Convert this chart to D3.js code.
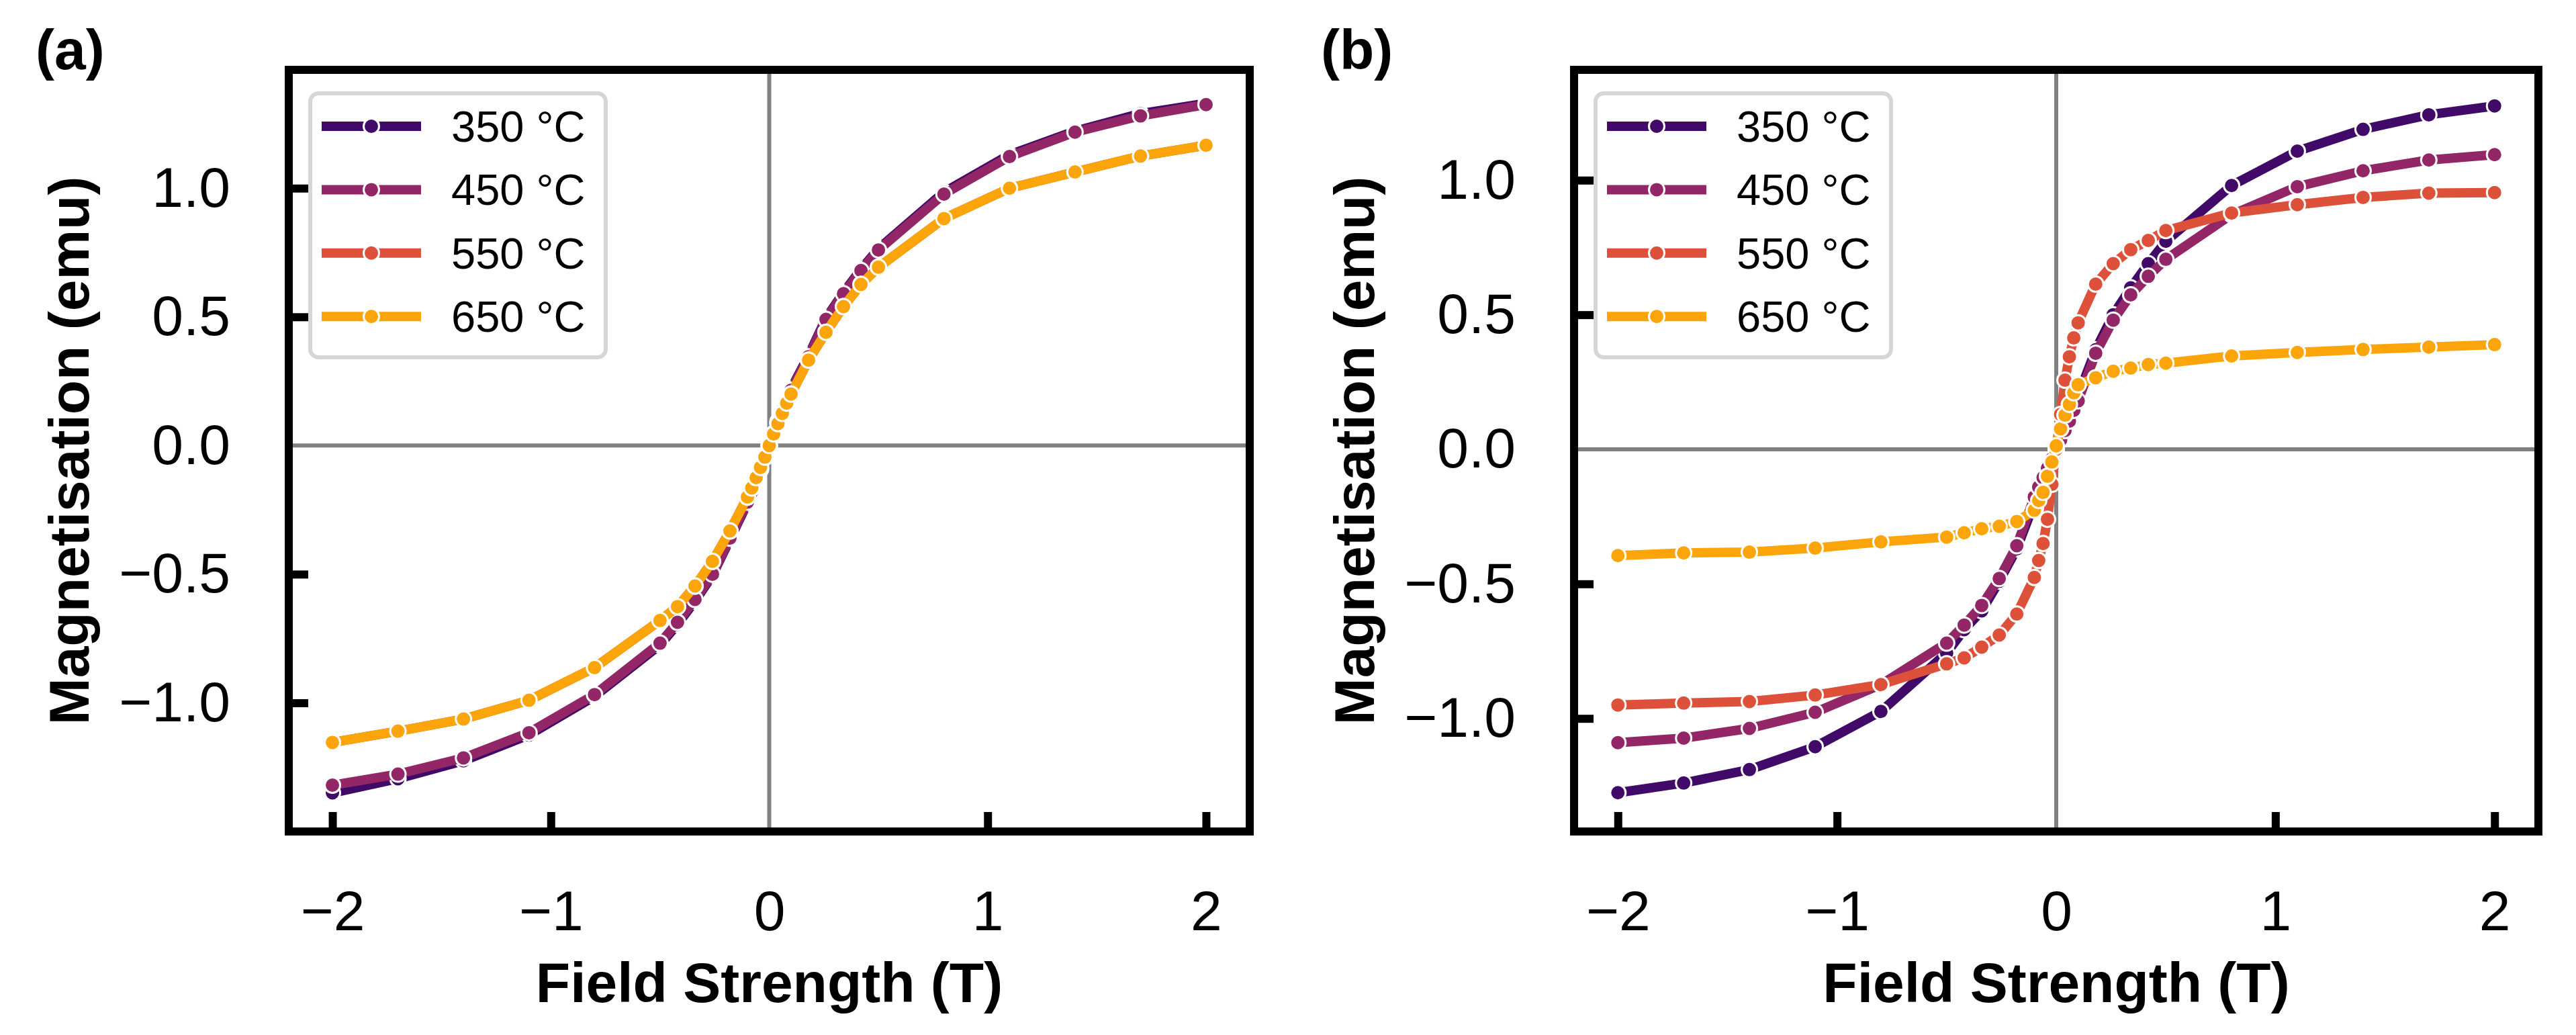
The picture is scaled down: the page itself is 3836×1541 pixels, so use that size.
<!DOCTYPE html>
<html>
  <head>
    <meta charset="utf-8" />
    <script src="https://cdn.jsdelivr.net/npm/d3@7"></script>
    <style>
      body { margin: 0; background: #ffffff; }
      text { font-family: "Liberation Sans", Arial, sans-serif; fill: #000000; }
      .tick text { font-size: 84px; }
      .label { font-size: 84px; font-weight: bold; }
      .legend text { font-size: 65px; }
    </style>
  </head>
  <body>
    <div id="chart"></div>
    <script type="text/javascript">
      var w = 3836, h = 1541;

      // field values (T), shared by every series
      var field = [-2, -1.7, -1.4, -1.1, -0.8, -0.5, -0.42, -0.34, -0.26, -0.18, -0.1, -0.08, -0.06, -0.04, -0.02, 0,
                   0.02, 0.04, 0.06, 0.08, 0.1, 0.18, 0.26, 0.34, 0.42, 0.5, 0.8, 1.1, 1.4, 1.7, 2];

      var temps = ["350 °C", "450 °C", "550 °C", "650 °C"];
      var colors = ["#420a68", "#932667", "#dd513a", "#fca50a"];

      // panel (a)
      var a350 = [-1.35, -1.295, -1.225, -1.125, -0.975, -0.775, -0.695, -0.605, -0.505, -0.365, -0.225, -0.185, -0.14, -0.093, -0.047, 0,
                  0.047, 0.093, 0.14, 0.18, 0.22, 0.35, 0.495, 0.595, 0.685, 0.765, 0.985, 1.13, 1.222, 1.29, 1.33];
      var a450 = [-1.32, -1.277, -1.214, -1.116, -0.968, -0.768, -0.687, -0.598, -0.5, -0.36, -0.22, -0.18, -0.135, -0.09, -0.045, 0,
                  0.045, 0.09, 0.135, 0.175, 0.215, 0.345, 0.49, 0.59, 0.68, 0.76, 0.977, 1.123, 1.218, 1.281, 1.325];
      var a550 = [-1.154, -1.11, -1.063, -0.99, -0.863, -0.68, -0.626, -0.546, -0.45, -0.332, -0.2, -0.165, -0.125, -0.085, -0.045, 0,
                  0.045, 0.085, 0.125, 0.165, 0.2, 0.332, 0.44, 0.54, 0.626, 0.693, 0.882, 1.0, 1.063, 1.125, 1.167];
      var a650 = [-1.154, -1.11, -1.063, -0.99, -0.863, -0.68, -0.626, -0.546, -0.45, -0.332, -0.2, -0.165, -0.125, -0.085, -0.045, 0,
                  0.045, 0.085, 0.125, 0.165, 0.2, 0.332, 0.44, 0.54, 0.626, 0.693, 0.882, 1.0, 1.063, 1.125, 1.167];

      // panel (b)
      var b350 = [-1.276, -1.24, -1.19, -1.105, -0.974, -0.757, -0.67, -0.6, -0.49, -0.37, -0.2, -0.165, -0.125, -0.085, -0.045, -0.005,
                  0.04, 0.08, 0.12, 0.16, 0.2, 0.37, 0.5, 0.6, 0.69, 0.773, 0.98, 1.108, 1.189, 1.243, 1.276];
      var b450 = [-1.09, -1.073, -1.037, -0.977, -0.874, -0.72, -0.653, -0.58, -0.48, -0.358, -0.177, -0.14, -0.105, -0.07, -0.035, 0,
                  0.035, 0.07, 0.105, 0.145, 0.18, 0.357, 0.48, 0.574, 0.643, 0.706, 0.872, 0.976, 1.035, 1.075, 1.095];
      var b550 = [-0.95, -0.943, -0.937, -0.913, -0.874, -0.797, -0.775, -0.735, -0.69, -0.612, -0.476, -0.413, -0.35, -0.26, -0.13, 0,
                  0.13, 0.257, 0.344, 0.414, 0.47, 0.614, 0.69, 0.742, 0.776, 0.813, 0.878, 0.909, 0.936, 0.952, 0.954];
      var b650 = [-0.395, -0.385, -0.382, -0.367, -0.344, -0.326, -0.31, -0.295, -0.286, -0.268, -0.226, -0.19, -0.16, -0.1, -0.047, 0.013,
                  0.076, 0.127, 0.167, 0.21, 0.24, 0.266, 0.29, 0.302, 0.315, 0.32, 0.347, 0.36, 0.371, 0.38, 0.389];

      var xTicks = [-2, -1, 1, 2];
      var yTicks = [-1, -0.5, 0.5, 1];

      var panels = [
        { tag: "(a)", left: 430, right: 1861, ydom: [-1.50, 1.46], series: [a350, a450, a550, a650] },
        { tag: "(b)", left: 2344, right: 3780, ydom: [-1.42, 1.41], series: [b350, b450, b550, b650] }
      ];
      var plotTop = 104, plotBottom = 1238;

      var svg = d3.select("#chart")
        .append("svg")
        .attr("width", w)
        .attr("height", h);

      svg.append("rect").attr("width", w).attr("height", h).attr("fill", "#ffffff");

      panels.forEach(function(p) {
        var x = d3.scaleLinear().domain([-2.2, 2.2]).range([p.left, p.right]);
        var y = d3.scaleLinear().domain(p.ydom).range([plotBottom, plotTop]);
        var g = svg.append("g");

        // zero lines
        g.append("line")
          .attr("x1", p.left).attr("x2", p.right)
          .attr("y1", y(0)).attr("y2", y(0))
          .attr("stroke", "#808080").attr("stroke-width", 6);
        g.append("line")
          .attr("x1", x(0)).attr("x2", x(0))
          .attr("y1", plotTop).attr("y2", plotBottom)
          .attr("stroke", "#808080").attr("stroke-width", 6);

        var line = d3.line()
          .x(function(d, i) { return x(field[i]); })
          .y(function(d) { return y(d); });

        p.series.forEach(function(vals, k) {
          var s = g.append("g");
          s.append("path")
            .datum(vals)
            .attr("d", line)
            .attr("fill", "none")
            .attr("stroke", colors[k])
            .attr("stroke-width", 14)
            .attr("stroke-linejoin", "round");
          s.selectAll("circle").data(vals)
            .enter()
            .append("circle")
            .attr("cx", function(d, i) { return x(field[i]); })
            .attr("cy", function(d) { return y(d); })
            .attr("r", 11.5)
            .attr("fill", colors[k])
            .attr("stroke", "#ffffff")
            .attr("stroke-width", 3);
        });

        // axes, ticks pointing inwards
        var xa = g.append("g")
          .attr("transform", "translate(0," + plotBottom + ")")
          .call(d3.axisBottom(x).tickValues(xTicks.concat([0])).tickFormat(d3.format("d"))
            .tickSizeInner(-29).tickSizeOuter(0).tickPadding(87));
        var ya = g.append("g")
          .attr("transform", "translate(" + p.left + ",0)")
          .call(d3.axisLeft(y).tickValues(yTicks.concat([0])).tickFormat(d3.format(".1f"))
            .tickSizeInner(-29).tickSizeOuter(0).tickPadding(87));
        [xa, ya].forEach(function(a) {
          a.select(".domain").remove();
          a.selectAll(".tick line")
            .attr("stroke", function(d) { return d === 0 ? "none" : "#000000"; })
            .attr("stroke-width", 12);
          a.selectAll(".tick text").attr("fill", "#000000");
        });

        // frame
        g.append("rect")
          .attr("x", p.left).attr("y", plotTop)
          .attr("width", p.right - p.left).attr("height", plotBottom - plotTop)
          .attr("fill", "none").attr("stroke", "#000000").attr("stroke-width", 12);

        // legend
        var lg = g.append("g").attr("class", "legend");
        lg.append("rect")
          .attr("x", p.left + 32).attr("y", 139)
          .attr("width", 440).attr("height", 393)
          .attr("rx", 12).attr("ry", 12)
          .attr("fill", "#ffffff").attr("fill-opacity", 0.8)
          .attr("stroke", "#d6d6d6").attr("stroke-width", 6);
        temps.forEach(function(t, k) {
          var cy = 188 + k * 94.4;
          lg.append("line")
            .attr("x1", p.left + 49).attr("x2", p.left + 197)
            .attr("y1", cy).attr("y2", cy)
            .attr("stroke", colors[k]).attr("stroke-width", 14);
          lg.append("circle")
            .attr("cx", p.left + 123).attr("cy", cy).attr("r", 11.5)
            .attr("fill", colors[k]).attr("stroke", "#ffffff").attr("stroke-width", 3);
          lg.append("text")
            .attr("x", p.left + 242).attr("y", cy + 23)
            .text(t);
        });

        // axis labels
        g.append("text")
          .attr("class", "label")
          .attr("x", (p.left + p.right) / 2).attr("y", 1492)
          .attr("text-anchor", "middle")
          .text("Field Strength (T)");
        g.append("text")
          .attr("class", "label")
          .attr("transform", "translate(" + (p.left - 298) + "," + ((plotTop + plotBottom) / 2) + ") rotate(-90)")
          .attr("text-anchor", "middle")
          .text("Magnetisation (emu)");
        g.append("text")
          .attr("class", "label")
          .attr("x", p.left - 377).attr("y", 103)
          .text(p.tag);
      });
    </script>
  </body>
</html>
